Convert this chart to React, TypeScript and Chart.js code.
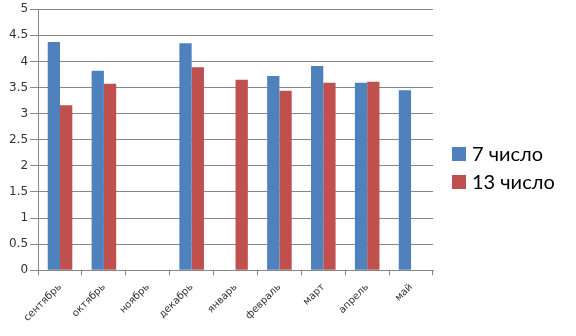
import React, { useEffect, useRef } from "react";
import { Chart, registerables } from "chart.js";

Chart.register(...registerables);

const categories = ["сентябрь", "октябрь", "ноябрь", "декабрь", "январь", "февраль", "март", "апрель", "май"];
const series7 = [4.37, 3.82, null, 4.35, null, 3.72, 3.91, 3.59, 3.45];
const series13 = [3.16, 3.57, null, 3.89, 3.65, 3.44, 3.59, 3.61, null];
const seriesNames = ["7 число", "13 число"];
const seriesColors = ["#4F81BD", "#C0504D"];

const sideLegend = {
  id: "sideLegend",
  afterDraw(chart: any) {
    const ctx = chart.ctx;
    const area = chart.chartArea;
    const x0 = area.right + 19;
    const rows = [154, 182];
    ctx.save();
    ctx.font = "20px Lato";
    ctx.textBaseline = "middle";
    ctx.textAlign = "left";
    chart.data.datasets.forEach((ds: any, i: number) => {
      const cy = rows[i];
      ctx.fillStyle = ds.backgroundColor;
      ctx.fillRect(x0, cy - 7, 14, 14);
      ctx.fillStyle = "#000";
      ctx.fillText(ds.label, x0 + 20, cy + 1);
    });
    ctx.restore();
  },
};

export default function App() {
  const ref = useRef<HTMLCanvasElement | null>(null);
  useEffect(() => {
    document.body.style.margin = "0";
    const canvas = ref.current!;
    const chart = new Chart(canvas, {
      type: "bar",
      data: {
        labels: categories,
        datasets: [
          { label: seriesNames[0], data: series7, backgroundColor: seriesColors[0], categoryPercentage: 0.56, barPercentage: 1 },
          { label: seriesNames[1], data: series13, backgroundColor: seriesColors[1], categoryPercentage: 0.56, barPercentage: 1 },
        ],
      },
      options: {
        responsive: false,
        animation: false,
        layout: { padding: { top: 0, right: 143, left: 7, bottom: 6 } },
        plugins: {
          tooltip: { enabled: false },
          legend: { display: false },
        },
        scales: {
          x: {
            grid: { drawOnChartArea: false, drawTicks: true, tickLength: 5, color: "#868686" },
            border: { color: "#868686" },
            ticks: {
              maxRotation: 45,
              minRotation: 45,
              color: "#333",
              font: { family: "DejaVu Sans", size: 10 },
              padding: 6,
            },
          },
          y: {
            min: 0,
            max: 5,
            ticks: {
              stepSize: 0.5,
              color: "#333",
              font: { family: "DejaVu Sans", size: 12 },
              padding: 2,
              callback: (v: any) => String(v),
            },
            grid: { color: "#868686", tickLength: 8 },
            border: { color: "#868686" },
          },
        },
      },
      plugins: [sideLegend],
    });
    return () => chart.destroy();
  }, []);
  return <canvas ref={ref} width={576} height={336} style={{ display: "block" }} />;
}
